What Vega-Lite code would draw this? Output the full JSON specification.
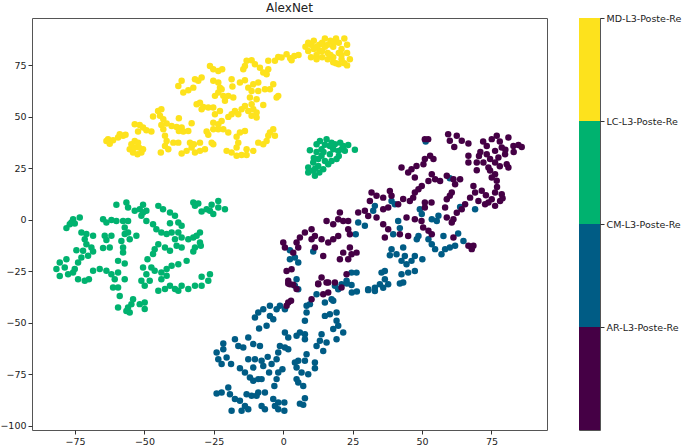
{"$schema":"https://vega.github.io/schema/vega-lite/v6.json","padding":{"left":-1,"top":1,"right":0,"bottom":0},"background":"white","spacing":30,"config":{"font":"DejaVu Sans","view":{"stroke":"#555555","strokeWidth":1},"axis":{"grid":false,"labelFont":"DejaVu Sans","labelFontSize":9.5,"labelColor":"#222222","tickColor":"#333333","tickSize":4,"domain":false,"title":null}},"hconcat":[{"width":515,"height":412,"title":{"text":"AlexNet","font":"DejaVu Sans","fontSize":12,"fontWeight":"normal","color":"#222222","offset":3},"data":{"values":[
{"x":-63.7,"y":38.3,"c":"MD"},{"x":-63.1,"y":39.2,"c":"MD"},{"x":-62.5,"y":37,"c":"MD"},{"x":-61.3,"y":38.7,"c":"MD"},{"x":-59.5,"y":40,"c":"MD"},{"x":-58.9,"y":41.6,"c":"MD"},{"x":-57.7,"y":40.8,"c":"MD"},{"x":-56.8,"y":41.3,"c":"MD"},{"x":-55.3,"y":34.3,"c":"MD"},{"x":-54.7,"y":36.7,"c":"MD"},{"x":-53.5,"y":38.3,"c":"MD"},{"x":-52.3,"y":37.5,"c":"MD"},{"x":-54.1,"y":32.7,"c":"MD"},{"x":-52.5,"y":31.9,"c":"MD"},{"x":-51.1,"y":32.7,"c":"MD"},{"x":-50.5,"y":34.3,"c":"MD"},{"x":-52,"y":35.1,"c":"MD"},{"x":-53.5,"y":35.1,"c":"MD"},{"x":-53.5,"y":46.4,"c":"MD"},{"x":-51.7,"y":46.1,"c":"MD"},{"x":-50.5,"y":44.8,"c":"MD"},{"x":-52.3,"y":42.9,"c":"MD"},{"x":-49.3,"y":43.5,"c":"MD"},{"x":-47.5,"y":42.9,"c":"MD"},{"x":-46.9,"y":50.2,"c":"MD"},{"x":-45.1,"y":52.9,"c":"MD"},{"x":-43.9,"y":53.7,"c":"MD"},{"x":-44.4,"y":50.5,"c":"MD"},{"x":-43.2,"y":48.9,"c":"MD"},{"x":-43.9,"y":46.1,"c":"MD"},{"x":-42,"y":46.8,"c":"MD"},{"x":-43.2,"y":44,"c":"MD"},{"x":-37.6,"y":49.3,"c":"MD"},{"x":-40.2,"y":45.6,"c":"MD"},{"x":-38.4,"y":45.1,"c":"MD"},{"x":-36.6,"y":44.8,"c":"MD"},{"x":-36,"y":42.9,"c":"MD"},{"x":-34.2,"y":43.2,"c":"MD"},{"x":-33,"y":46.9,"c":"MD"},{"x":-37.6,"y":43.2,"c":"MD"},{"x":-42.6,"y":40.8,"c":"MD"},{"x":-42,"y":38.3,"c":"MD"},{"x":-42.6,"y":35.9,"c":"MD"},{"x":-41.4,"y":34.3,"c":"MD"},{"x":-39.6,"y":37.5,"c":"MD"},{"x":-37.8,"y":37.5,"c":"MD"},{"x":-44.1,"y":32.7,"c":"MD"},{"x":-36.6,"y":32.2,"c":"MD"},{"x":-34.8,"y":33.5,"c":"MD"},{"x":-33.6,"y":37.5,"c":"MD"},{"x":-33,"y":35.1,"c":"MD"},{"x":-31.8,"y":32.7,"c":"MD"},{"x":-30,"y":33.5,"c":"MD"},{"x":-28.2,"y":34.3,"c":"MD"},{"x":-32.2,"y":36.7,"c":"MD"},{"x":-30,"y":37.5,"c":"MD"},{"x":-25.8,"y":37.5,"c":"MD"},{"x":-25.2,"y":36.7,"c":"MD"},{"x":-27.6,"y":42.9,"c":"MD"},{"x":-27,"y":41.3,"c":"MD"},{"x":-25.2,"y":44,"c":"MD"},{"x":-25.2,"y":47.2,"c":"MD"},{"x":-23.4,"y":46.4,"c":"MD"},{"x":-22.2,"y":48,"c":"MD"},{"x":-23.4,"y":44,"c":"MD"},{"x":-21.6,"y":44,"c":"MD"},{"x":-19.8,"y":42.4,"c":"MD"},{"x":-15.6,"y":42.4,"c":"MD"},{"x":-13.8,"y":43.2,"c":"MD"},{"x":-16.8,"y":40.3,"c":"MD"},{"x":-16.2,"y":37.5,"c":"MD"},{"x":-16.8,"y":35.1,"c":"MD"},{"x":-20.4,"y":33.5,"c":"MD"},{"x":-18.6,"y":32.7,"c":"MD"},{"x":-16.8,"y":31.1,"c":"MD"},{"x":-15,"y":31.5,"c":"MD"},{"x":-13.2,"y":31.5,"c":"MD"},{"x":-13.2,"y":34.3,"c":"MD"},{"x":-10.8,"y":33.5,"c":"MD"},{"x":-9,"y":37.5,"c":"MD"},{"x":-7.2,"y":36.7,"c":"MD"},{"x":-6,"y":38.3,"c":"MD"},{"x":-5.4,"y":40.8,"c":"MD"},{"x":-3.6,"y":44,"c":"MD"},{"x":-3,"y":40.8,"c":"MD"},{"x":-4.8,"y":42.4,"c":"MD"},
{"x":-36.6,"y":67.5,"c":"MD"},{"x":-37.8,"y":65,"c":"MD"},{"x":-36,"y":61.8,"c":"MD"},{"x":-34.2,"y":62.9,"c":"MD"},{"x":-32.4,"y":64.2,"c":"MD"},{"x":-31.8,"y":68.3,"c":"MD"},{"x":-29.4,"y":69.1,"c":"MD"},{"x":-30.6,"y":67.5,"c":"MD"},{"x":-26.4,"y":74.7,"c":"MD"},{"x":-25.2,"y":73.1,"c":"MD"},{"x":-23.4,"y":72.3,"c":"MD"},{"x":-22,"y":73.1,"c":"MD"},{"x":-25.2,"y":67.5,"c":"MD"},{"x":-23.4,"y":66.7,"c":"MD"},{"x":-22.8,"y":64.2,"c":"MD"},{"x":-24.6,"y":60.2,"c":"MD"},{"x":-23.4,"y":61.8,"c":"MD"},{"x":-21.6,"y":60.2,"c":"MD"},{"x":-19.8,"y":60.2,"c":"MD"},{"x":-18,"y":59.4,"c":"MD"},{"x":-21,"y":57.8,"c":"MD"},{"x":-22.2,"y":63.4,"c":"MD"},{"x":-31.2,"y":56.1,"c":"MD"},{"x":-30,"y":56.9,"c":"MD"},{"x":-28.8,"y":54.8,"c":"MD"},{"x":-29.4,"y":53.7,"c":"MD"},{"x":-27,"y":54.5,"c":"MD"},{"x":-25.2,"y":54.5,"c":"MD"},{"x":-24.6,"y":51.3,"c":"MD"},{"x":-22.8,"y":52.9,"c":"MD"},{"x":-18.6,"y":68.3,"c":"MD"},{"x":-18.3,"y":64.7,"c":"MD"},{"x":-15.6,"y":66.7,"c":"MD"},{"x":-13.8,"y":67.8,"c":"MD"},{"x":-14.4,"y":73.1,"c":"MD"},{"x":-13.2,"y":77.2,"c":"MD"},{"x":-11.4,"y":77.5,"c":"MD"},{"x":-10.2,"y":75.6,"c":"MD"},{"x":-13.8,"y":74.7,"c":"MD"},{"x":-8.4,"y":73.9,"c":"MD"},{"x":-7.2,"y":71.5,"c":"MD"},{"x":-6,"y":70.7,"c":"MD"},{"x":-5.4,"y":73.1,"c":"MD"},{"x":-5.4,"y":77.2,"c":"MD"},{"x":-3,"y":77.2,"c":"MD"},{"x":-1.8,"y":79.1,"c":"MD"},{"x":-0.6,"y":78.8,"c":"MD"},{"x":1.2,"y":80.4,"c":"MD"},{"x":-12.6,"y":64.2,"c":"MD"},{"x":-10.8,"y":65.8,"c":"MD"},{"x":-9,"y":66.7,"c":"MD"},{"x":-11.4,"y":62.6,"c":"MD"},{"x":-9,"y":62.6,"c":"MD"},{"x":-6.6,"y":63.4,"c":"MD"},{"x":-4.8,"y":63.4,"c":"MD"},{"x":-3.6,"y":65.8,"c":"MD"},{"x":-1.8,"y":60.2,"c":"MD"},{"x":-2.4,"y":59.4,"c":"MD"},{"x":-12,"y":59.4,"c":"MD"},{"x":-9.6,"y":58.6,"c":"MD"},{"x":-11.4,"y":56.1,"c":"MD"},{"x":-13.8,"y":55.3,"c":"MD"},{"x":-15,"y":53.7,"c":"MD"},{"x":-17.4,"y":52.9,"c":"MD"},{"x":-18.6,"y":51.3,"c":"MD"},{"x":-19.8,"y":50,"c":"MD"},{"x":-16.2,"y":51.3,"c":"MD"},{"x":-12.6,"y":52.9,"c":"MD"},{"x":-10.8,"y":53.7,"c":"MD"},{"x":-9.6,"y":52.1,"c":"MD"},{"x":-9.6,"y":49.7,"c":"MD"},{"x":-7.2,"y":55.8,"c":"MD"},{"x":-11.4,"y":50.5,"c":"MD"},
{"x":2.5,"y":78.5,"c":"MD"},{"x":4,"y":79.5,"c":"MD"},{"x":5.5,"y":80,"c":"MD"},{"x":3,"y":77.5,"c":"MD"},{"x":8,"y":84,"c":"MD"},{"x":9,"y":82,"c":"MD"},{"x":10,"y":85,"c":"MD"},{"x":11,"y":83,"c":"MD"},{"x":12,"y":80,"c":"MD"},{"x":13,"y":85,"c":"MD"},{"x":14,"y":86,"c":"MD"},{"x":15,"y":84,"c":"MD"},{"x":16,"y":81,"c":"MD"},{"x":17,"y":87,"c":"MD"},{"x":18,"y":84,"c":"MD"},{"x":19,"y":88,"c":"MD"},{"x":20,"y":86,"c":"MD"},{"x":21,"y":83,"c":"MD"},{"x":22,"y":88,"c":"MD"},{"x":23,"y":85,"c":"MD"},{"x":10,"y":79,"c":"MD"},{"x":12,"y":78,"c":"MD"},{"x":14,"y":79,"c":"MD"},{"x":16,"y":78,"c":"MD"},{"x":18,"y":79,"c":"MD"},{"x":19,"y":76,"c":"MD"},{"x":21,"y":78,"c":"MD"},{"x":22,"y":76,"c":"MD"},{"x":23,"y":75,"c":"MD"},{"x":24,"y":78,"c":"MD"},{"x":20,"y":81,"c":"MD"},{"x":15,"y":88,"c":"MD"},{"x":23,"y":81,"c":"MD"},{"x":17,"y":80,"c":"MD"},{"x":13,"y":82,"c":"MD"},{"x":9,"y":86,"c":"MD"},{"x":11,"y":87,"c":"MD"},{"x":18,"y":86,"c":"MD"},{"x":12,"y":84,"c":"MD"},{"x":16,"y":85,"c":"MD"},{"x":21,"y":80,"c":"MD"},{"x":14,"y":82,"c":"MD"},{"x":18,"y":76.5,"c":"MD"},{"x":20,"y":75.5,"c":"MD"},
{"x":-78.1,"y":-4,"c":"LC"},{"x":-76.9,"y":-2.1,"c":"LC"},{"x":-75.7,"y":0.3,"c":"LC"},{"x":-76.3,"y":-1.3,"c":"LC"},{"x":-73.3,"y":1.2,"c":"LC"},{"x":-75.1,"y":-1.8,"c":"LC"},{"x":-64.9,"y":0.3,"c":"LC"},{"x":-63.7,"y":-1.3,"c":"LC"},{"x":-61.9,"y":-0.1,"c":"LC"},{"x":-60.1,"y":-0.5,"c":"LC"},{"x":-57.7,"y":-0.5,"c":"LC"},{"x":-55.9,"y":-0.5,"c":"LC"},{"x":-60.1,"y":7.3,"c":"LC"},{"x":-56.5,"y":8.4,"c":"LC"},{"x":-55.9,"y":6,"c":"LC"},{"x":-53.5,"y":4.4,"c":"LC"},{"x":-51.7,"y":5.2,"c":"LC"},{"x":-50.5,"y":7.3,"c":"LC"},{"x":-49.3,"y":4.4,"c":"LC"},{"x":-51.1,"y":2,"c":"LC"},{"x":-49.3,"y":-0.5,"c":"LC"},{"x":-50.5,"y":3.6,"c":"LC"},{"x":-45,"y":6.8,"c":"LC"},{"x":-43.3,"y":5.2,"c":"LC"},{"x":-40.8,"y":3.6,"c":"LC"},{"x":-39,"y":2,"c":"LC"},{"x":-37.8,"y":-1.3,"c":"LC"},{"x":-36.6,"y":-2.9,"c":"LC"},{"x":-40.8,"y":-1.6,"c":"LC"},{"x":-46.9,"y":-2.1,"c":"LC"},{"x":-45.7,"y":-4.5,"c":"LC"},{"x":-32.4,"y":8.4,"c":"LC"},{"x":-31.8,"y":6.8,"c":"LC"},{"x":-30.6,"y":8,"c":"LC"},{"x":-23.4,"y":9.2,"c":"LC"},{"x":-25.8,"y":7.3,"c":"LC"},{"x":-27.6,"y":5.2,"c":"LC"},{"x":-29.4,"y":4.1,"c":"LC"},{"x":-25.2,"y":2.8,"c":"LC"},{"x":-23.4,"y":6,"c":"LC"},{"x":-21,"y":5.2,"c":"LC"},{"x":-26.4,"y":4.4,"c":"LC"},{"x":-72.7,"y":-6.1,"c":"LC"},{"x":-70.9,"y":-6.9,"c":"LC"},{"x":-68.5,"y":-7.7,"c":"LC"},{"x":-71.5,"y":-9.4,"c":"LC"},{"x":-64.3,"y":-7.7,"c":"LC"},{"x":-61.9,"y":-7.7,"c":"LC"},{"x":-63.7,"y":-9.8,"c":"LC"},{"x":-64.9,"y":-13.7,"c":"LC"},{"x":-62.5,"y":-13.4,"c":"LC"},{"x":-57.1,"y":-3.7,"c":"LC"},{"x":-57.1,"y":-6.9,"c":"LC"},{"x":-58.3,"y":-10.2,"c":"LC"},{"x":-55.3,"y":-9.4,"c":"LC"},{"x":-52.9,"y":-7.7,"c":"LC"},{"x":-57.7,"y":-13.4,"c":"LC"},{"x":-57.7,"y":-15.8,"c":"LC"},{"x":-55.9,"y":-6.1,"c":"LC"},{"x":-43.9,"y":-6.1,"c":"LC"},{"x":-42,"y":-6.9,"c":"LC"},{"x":-40.2,"y":-6.1,"c":"LC"},{"x":-37.8,"y":-6.1,"c":"LC"},{"x":-36.6,"y":-8.5,"c":"LC"},{"x":-39,"y":-9.4,"c":"LC"},{"x":-38.4,"y":-12.6,"c":"LC"},{"x":-36.6,"y":-13.4,"c":"LC"},{"x":-40.8,"y":-15,"c":"LC"},{"x":-42.6,"y":-13.4,"c":"LC"},{"x":-45,"y":-11.8,"c":"LC"},{"x":-46.3,"y":-14.2,"c":"LC"},{"x":-46.9,"y":-16.6,"c":"LC"},{"x":-48.9,"y":-19.1,"c":"LC"},{"x":-34.2,"y":-9.4,"c":"LC"},{"x":-32.4,"y":-8.5,"c":"LC"},{"x":-30,"y":-6.1,"c":"LC"},{"x":-31.2,"y":-7.7,"c":"LC"},{"x":-30,"y":-11,"c":"LC"},{"x":-31.8,"y":-13.4,"c":"LC"},{"x":-32.4,"y":-15.4,"c":"LC"},{"x":-29.7,"y":-12.6,"c":"LC"},{"x":-70.9,"y":-11.8,"c":"LC"},{"x":-69.1,"y":-13.4,"c":"LC"},{"x":-68.5,"y":-15.4,"c":"LC"},{"x":-74.5,"y":-14.7,"c":"LC"},{"x":-72.1,"y":-15,"c":"LC"},{"x":-70.3,"y":-17.4,"c":"LC"},{"x":-72.7,"y":-18.3,"c":"LC"},{"x":-73.9,"y":-20.7,"c":"LC"},{"x":-75.1,"y":-23.9,"c":"LC"},{"x":-78.1,"y":-19.1,"c":"LC"},{"x":-80.5,"y":-20.7,"c":"LC"},{"x":-81.7,"y":-23.9,"c":"LC"},{"x":-80.5,"y":-27.2,"c":"LC"},{"x":-78.7,"y":-23.1,"c":"LC"},{"x":-77.5,"y":-26.4,"c":"LC"},{"x":-75.7,"y":-25.5,"c":"LC"},{"x":-73.9,"y":-28.8,"c":"LC"},{"x":-71.5,"y":-29.6,"c":"LC"},{"x":-70,"y":-28.8,"c":"LC"},{"x":-68.5,"y":-24.7,"c":"LC"},{"x":-66.1,"y":-23.9,"c":"LC"},{"x":-59.5,"y":-19.9,"c":"LC"},{"x":-57.1,"y":-21.2,"c":"LC"},{"x":-63.7,"y":-24.7,"c":"LC"},{"x":-61.9,"y":-26.4,"c":"LC"},{"x":-59.5,"y":-25.5,"c":"LC"},{"x":-60.7,"y":-28.8,"c":"LC"},{"x":-61.3,"y":-32.8,"c":"LC"},{"x":-59.5,"y":-32.8,"c":"LC"},{"x":-58.9,"y":-36.9,"c":"LC"},{"x":-57.1,"y":-28.8,"c":"LC"},{"x":-50.5,"y":-23.1,"c":"LC"},{"x":-47.5,"y":-23.1,"c":"LC"},{"x":-49.3,"y":-26.4,"c":"LC"},{"x":-51.1,"y":-29.6,"c":"LC"},{"x":-49.9,"y":-32,"c":"LC"},{"x":-48.1,"y":-29.6,"c":"LC"},{"x":-46.3,"y":-24.7,"c":"LC"},{"x":-43.9,"y":-25.5,"c":"LC"},{"x":-42,"y":-23.9,"c":"LC"},{"x":-40.2,"y":-22.3,"c":"LC"},{"x":-37.8,"y":-21.5,"c":"LC"},{"x":-34.8,"y":-19.9,"c":"LC"},{"x":-43.9,"y":-28.8,"c":"LC"},{"x":-42,"y":-27.1,"c":"LC"},{"x":-45,"y":-34.4,"c":"LC"},{"x":-42.6,"y":-33.6,"c":"LC"},{"x":-40.8,"y":-32,"c":"LC"},{"x":-39,"y":-33.6,"c":"LC"},{"x":-36.6,"y":-32,"c":"LC"},{"x":-34.2,"y":-33.6,"c":"LC"},{"x":-31.8,"y":-32,"c":"LC"},{"x":-29.4,"y":-32,"c":"LC"},{"x":-27,"y":-29.6,"c":"LC"},{"x":-26.4,"y":-26.4,"c":"LC"},{"x":-29.4,"y":-27.6,"c":"LC"},{"x":-37.8,"y":-34.4,"c":"LC"},{"x":-59.5,"y":-42.5,"c":"LC"},{"x":-56.5,"y":-44.2,"c":"LC"},{"x":-55.3,"y":-45,"c":"LC"},{"x":-54.7,"y":-40.9,"c":"LC"},{"x":-54.1,"y":-38.5,"c":"LC"},{"x":-51.7,"y":-40.9,"c":"LC"},{"x":-49.9,"y":-40.1,"c":"LC"},{"x":-49.9,"y":-43.3,"c":"LC"},{"x":-55.9,"y":-42.5,"c":"LC"},
{"x":9.6,"y":33.8,"c":"LC"},{"x":12,"y":36.7,"c":"LC"},{"x":15.6,"y":39.2,"c":"LC"},{"x":18.6,"y":36.7,"c":"LC"},{"x":21.6,"y":35.9,"c":"LC"},{"x":23.4,"y":36.4,"c":"LC"},{"x":25.8,"y":34,"c":"LC"},{"x":19.8,"y":33.5,"c":"LC"},{"x":22.2,"y":33.5,"c":"LC"},{"x":13.8,"y":34.3,"c":"LC"},{"x":16.8,"y":35.9,"c":"LC"},{"x":13.8,"y":31.1,"c":"LC"},{"x":16.8,"y":31.9,"c":"LC"},{"x":19.2,"y":29.5,"c":"LC"},{"x":10.8,"y":27.8,"c":"LC"},{"x":12.6,"y":26.2,"c":"LC"},{"x":9,"y":25.4,"c":"LC"},{"x":9,"y":23,"c":"LC"},{"x":11.4,"y":21.4,"c":"LC"},{"x":14.4,"y":24.6,"c":"LC"},{"x":16.2,"y":27,"c":"LC"},{"x":12.6,"y":29.5,"c":"LC"},{"x":15,"y":28.6,"c":"LC"},{"x":17.4,"y":28.6,"c":"LC"},{"x":10.8,"y":23.8,"c":"LC"},{"x":21,"y":34.3,"c":"LC"},{"x":18,"y":34.3,"c":"LC"},{"x":13.2,"y":38.3,"c":"LC"},{"x":17.4,"y":37.5,"c":"LC"},{"x":11,"y":30,"c":"LC"},{"x":14.5,"y":33,"c":"LC"},{"x":20,"y":31,"c":"LC"},{"x":15,"y":36.5,"c":"LC"},{"x":11.5,"y":25,"c":"LC"},{"x":13,"y":23,"c":"LC"},{"x":20.5,"y":37.5,"c":"LC"},{"x":12,"y":33,"c":"LC"},
{"x":2.4,"y":-14.7,"c":"CM"},{"x":4.2,"y":-18.3,"c":"CM"},{"x":2.4,"y":-19.1,"c":"CM"},{"x":5.4,"y":-20.7,"c":"CM"},{"x":4.8,"y":-28.8,"c":"CM"},{"x":4.2,"y":-32,"c":"CM"},{"x":5.4,"y":-33.7,"c":"CM"},{"x":10.8,"y":-15.4,"c":"CM"},{"x":26.1,"y":-7,"c":"CM"},{"x":27,"y":-1.3,"c":"CM"},{"x":29.4,"y":-2.9,"c":"CM"},{"x":32.4,"y":4.4,"c":"CM"},{"x":33,"y":6.8,"c":"CM"},{"x":39,"y":9.2,"c":"CM"},{"x":40.2,"y":7.6,"c":"CM"},{"x":39.6,"y":-7,"c":"CM"},{"x":42,"y":-4,"c":"CM"},{"x":41.4,"y":-0.5,"c":"CM"},{"x":49.2,"y":5.2,"c":"CM"},{"x":49.9,"y":2.8,"c":"CM"},{"x":53.5,"y":0.3,"c":"CM"},{"x":55.3,"y":-0.5,"c":"CM"},{"x":55.9,"y":2,"c":"CM"},{"x":48.7,"y":-7.8,"c":"CM"},{"x":48.1,"y":-9.4,"c":"CM"},{"x":52.3,"y":-9.4,"c":"CM"},{"x":53.5,"y":-11.8,"c":"CM"},{"x":57.7,"y":-7.8,"c":"CM"},{"x":63,"y":-6.6,"c":"CM"},{"x":64.9,"y":-10.2,"c":"CM"},{"x":61.9,"y":-12.6,"c":"CM"},{"x":57,"y":-16.7,"c":"CM"},{"x":58.3,"y":-14.2,"c":"CM"},{"x":60,"y":-13.4,"c":"CM"},{"x":54.7,"y":-14.2,"c":"CM"},{"x":69.1,"y":5.2,"c":"CM"},{"x":63.7,"y":6.3,"c":"CM"},{"x":60,"y":20.2,"c":"CM"},{"x":51.3,"y":38,"c":"CM"},{"x":39,"y":-14.2,"c":"CM"},{"x":43.2,"y":-13.4,"c":"CM"},{"x":40.8,"y":-16.7,"c":"CM"},{"x":38.4,"y":-17.2,"c":"CM"},{"x":43.8,"y":-17.5,"c":"CM"},{"x":42.6,"y":-19.9,"c":"CM"},{"x":44.4,"y":-21.5,"c":"CM"},{"x":47.4,"y":-17.5,"c":"CM"},{"x":46.2,"y":-19.9,"c":"CM"},{"x":50.1,"y":-19.1,"c":"CM"},{"x":45,"y":-25.6,"c":"CM"},{"x":42.6,"y":-26.4,"c":"CM"},{"x":47.4,"y":-24.8,"c":"CM"},{"x":43.2,"y":-30.4,"c":"CM"},{"x":42,"y":-30.9,"c":"CM"},{"x":24.6,"y":-25.6,"c":"CM"},{"x":26.4,"y":-25.6,"c":"CM"},{"x":22.8,"y":-29.6,"c":"CM"},{"x":21,"y":-31.2,"c":"CM"},{"x":24.6,"y":-31.6,"c":"CM"},{"x":18.6,"y":-32,"c":"CM"},{"x":19.8,"y":-33.7,"c":"CM"},{"x":35.4,"y":-25.6,"c":"CM"},{"x":36.6,"y":-24.8,"c":"CM"},{"x":36.6,"y":-28.8,"c":"CM"},{"x":37.8,"y":-31.2,"c":"CM"},{"x":34.8,"y":-31.2,"c":"CM"},{"x":36,"y":-32.9,"c":"CM"},{"x":33,"y":-32.9,"c":"CM"},{"x":30.6,"y":-33.7,"c":"CM"},{"x":22.9,"y":-30.9,"c":"CM"},{"x":24.7,"y":-35.3,"c":"CM"},{"x":26.5,"y":-34.8,"c":"CM"},{"x":30.6,"y":-34.1,"c":"CM"},{"x":33,"y":-34.5,"c":"CM"},{"x":12,"y":-36.1,"c":"CM"},{"x":17.4,"y":-38.5,"c":"CM"},{"x":8.4,"y":-41.7,"c":"CM"},{"x":9.6,"y":-40.9,"c":"CM"},{"x":8.4,"y":-45,"c":"CM"},{"x":7.8,"y":-49,"c":"CM"},{"x":15,"y":-40.1,"c":"CM"},{"x":18,"y":-39.3,"c":"CM"},{"x":15,"y":-46.6,"c":"CM"},{"x":16.8,"y":-45.8,"c":"CM"},{"x":19.2,"y":-45,"c":"CM"},{"x":19.2,"y":-49,"c":"CM"},{"x":18,"y":-53,"c":"CM"},{"x":19.8,"y":-51.4,"c":"CM"},{"x":21.6,"y":-54.7,"c":"CM"},{"x":19.2,"y":-57.9,"c":"CM"},{"x":-10.2,"y":-47.4,"c":"CM"},{"x":-9,"y":-45,"c":"CM"},{"x":-7.2,"y":-43.4,"c":"CM"},{"x":-4.8,"y":-41.7,"c":"CM"},{"x":-2.4,"y":-43.4,"c":"CM"},{"x":-1.2,"y":-41.7,"c":"CM"},{"x":0.6,"y":-43.4,"c":"CM"},{"x":-4.8,"y":-46.6,"c":"CM"},{"x":-6,"y":-51.4,"c":"CM"},{"x":-8.7,"y":-52.7,"c":"CM"},{"x":-3.6,"y":-48.2,"c":"CM"},{"x":0.6,"y":-54.7,"c":"CM"},{"x":1.8,"y":-57.1,"c":"CM"},{"x":4.8,"y":-56.3,"c":"CM"},{"x":6,"y":-54.7,"c":"CM"},{"x":7.8,"y":-57.9,"c":"CM"},{"x":7.8,"y":-55.5,"c":"CM"},{"x":13.8,"y":-55.5,"c":"CM"},{"x":13.2,"y":-58.7,"c":"CM"},{"x":12,"y":-61.2,"c":"CM"},{"x":14.4,"y":-63.6,"c":"CM"},{"x":15.6,"y":-59.5,"c":"CM"},{"x":-21.6,"y":-60,"c":"CM"},{"x":-21.6,"y":-62.8,"c":"CM"},{"x":-24,"y":-64.4,"c":"CM"},{"x":-23.4,"y":-67.6,"c":"CM"},{"x":-22.2,"y":-70,"c":"CM"},{"x":-20.4,"y":-66.8,"c":"CM"},{"x":-18.8,"y":-70,"c":"CM"},{"x":-17.4,"y":-57.9,"c":"CM"},{"x":-16.2,"y":-61.2,"c":"CM"},{"x":-14.4,"y":-62,"c":"CM"},{"x":-12.6,"y":-57.1,"c":"CM"},{"x":-10.8,"y":-60.3,"c":"CM"},{"x":-8.4,"y":-61.2,"c":"CM"},{"x":-12.6,"y":-67.6,"c":"CM"},{"x":-10.2,"y":-67.6,"c":"CM"},{"x":-7.8,"y":-68.4,"c":"CM"},{"x":-5.6,"y":-66.5,"c":"CM"},{"x":-7.2,"y":-70.9,"c":"CM"},{"x":-10.8,"y":-71.7,"c":"CM"},{"x":-15.6,"y":-72,"c":"CM"},{"x":-13.8,"y":-74.1,"c":"CM"},{"x":-12,"y":-76.5,"c":"CM"},{"x":-9,"y":-77.3,"c":"CM"},{"x":-7.8,"y":-77.3,"c":"CM"},{"x":-10.8,"y":-78.1,"c":"CM"},{"x":-4.2,"y":-70,"c":"CM"},{"x":-5.1,"y":-74.1,"c":"CM"},{"x":-1.2,"y":-61.2,"c":"CM"},{"x":0.6,"y":-62,"c":"CM"},{"x":-1.8,"y":-64.4,"c":"CM"},{"x":-2.4,"y":-67.6,"c":"CM"},{"x":1.8,"y":-62.8,"c":"CM"},{"x":-0.3,"y":-72.5,"c":"CM"},{"x":-1.8,"y":-74.1,"c":"CM"},{"x":-2.4,"y":-77.3,"c":"CM"},{"x":-3.2,"y":-80.6,"c":"CM"},{"x":5.4,"y":-68.4,"c":"CM"},{"x":4.2,"y":-69.2,"c":"CM"},{"x":8.4,"y":-65.2,"c":"CM"},{"x":7.8,"y":-68.4,"c":"CM"},{"x":11.4,"y":-69.2,"c":"CM"},{"x":11.4,"y":-72,"c":"CM"},{"x":4.8,"y":-71.7,"c":"CM"},{"x":9,"y":-74.9,"c":"CM"},{"x":4.8,"y":-77.3,"c":"CM"},{"x":5.4,"y":-78.9,"c":"CM"},{"x":7.2,"y":-80.6,"c":"CM"},{"x":6.6,"y":-74.1,"c":"CM"},{"x":-24,"y":-84.3,"c":"CM"},{"x":-22.2,"y":-83.8,"c":"CM"},{"x":-19.8,"y":-81.4,"c":"CM"},{"x":-19.2,"y":-84.6,"c":"CM"},{"x":-17.4,"y":-87,"c":"CM"},{"x":-15.6,"y":-87.8,"c":"CM"},{"x":-18.6,"y":-92.7,"c":"CM"},{"x":-15,"y":-92.7,"c":"CM"},{"x":-12.6,"y":-91.9,"c":"CM"},{"x":-13.8,"y":-90.3,"c":"CM"},{"x":-13.2,"y":-84.6,"c":"CM"},{"x":-11.4,"y":-85.4,"c":"CM"},{"x":-9,"y":-83.8,"c":"CM"},{"x":-6.6,"y":-83.8,"c":"CM"},{"x":-9.6,"y":-85.4,"c":"CM"},{"x":-7.8,"y":-90.3,"c":"CM"},{"x":-6.6,"y":-91.9,"c":"CM"},{"x":-3.6,"y":-87,"c":"CM"},{"x":-3,"y":-90.3,"c":"CM"},{"x":-1.8,"y":-88.7,"c":"CM"},{"x":0.4,"y":-88.7,"c":"CM"},{"x":0.4,"y":-92.7,"c":"CM"},{"x":-1.8,"y":-91.9,"c":"CM"},{"x":7.8,"y":-86.6,"c":"CM"},{"x":6,"y":-89.2,"c":"CM"},{"x":7.2,"y":-89.8,"c":"CM"},
{"x":0,"y":-11,"c":"AR"},{"x":0.6,"y":-13.4,"c":"AR"},{"x":4.8,"y":-11,"c":"AR"},{"x":6,"y":-8.6,"c":"AR"},{"x":5.4,"y":-13.4,"c":"AR"},{"x":3.6,"y":-15.9,"c":"AR"},{"x":7.8,"y":-6.1,"c":"AR"},{"x":10.2,"y":-4.5,"c":"AR"},{"x":11.4,"y":-7.8,"c":"AR"},{"x":10.2,"y":-9.4,"c":"AR"},{"x":11.4,"y":-13.4,"c":"AR"},{"x":13.8,"y":-9.4,"c":"AR"},{"x":16.2,"y":-11,"c":"AR"},{"x":18,"y":-9.4,"c":"AR"},{"x":19.8,"y":-7.8,"c":"AR"},{"x":15.6,"y":-0.5,"c":"AR"},{"x":18,"y":-2.1,"c":"AR"},{"x":20.4,"y":3.6,"c":"AR"},{"x":19.8,"y":0.3,"c":"AR"},{"x":21.6,"y":-0.5,"c":"AR"},{"x":23.4,"y":-0.5,"c":"AR"},{"x":23.4,"y":-4.5,"c":"AR"},{"x":24,"y":-7,"c":"AR"},{"x":27,"y":3.6,"c":"AR"},{"x":29.4,"y":4.4,"c":"AR"},{"x":31.2,"y":9.2,"c":"AR"},{"x":31.8,"y":13.3,"c":"AR"},{"x":33.6,"y":11.7,"c":"AR"},{"x":30.6,"y":1.9,"c":"AR"},{"x":33.6,"y":1.1,"c":"AR"},{"x":36,"y":5.2,"c":"AR"},{"x":37.8,"y":6,"c":"AR"},{"x":38.4,"y":14,"c":"AR"},{"x":36,"y":10.8,"c":"AR"},{"x":39,"y":11.7,"c":"AR"},{"x":43.2,"y":10.1,"c":"AR"},{"x":41.4,"y":7.6,"c":"AR"},{"x":36,"y":-2.1,"c":"AR"},{"x":37.8,"y":-4.5,"c":"AR"},{"x":36.6,"y":-8.6,"c":"AR"},{"x":42,"y":-7,"c":"AR"},{"x":45,"y":-7.8,"c":"AR"},{"x":44.4,"y":1.1,"c":"AR"},{"x":47.4,"y":0.3,"c":"AR"},{"x":49.8,"y":-0.5,"c":"AR"},{"x":50.4,"y":-3.7,"c":"AR"},{"x":46.8,"y":10.8,"c":"AR"},{"x":47.4,"y":13.3,"c":"AR"},{"x":51,"y":8.4,"c":"AR"},{"x":53.4,"y":8.4,"c":"AR"},{"x":51,"y":6,"c":"AR"},{"x":45.6,"y":9.2,"c":"AR"},{"x":14.4,"y":-17.5,"c":"AR"},{"x":20.4,"y":-19.1,"c":"AR"},{"x":21.6,"y":-15.9,"c":"AR"},{"x":24,"y":-13.4,"c":"AR"},{"x":24.6,"y":-16.7,"c":"AR"},{"x":26.4,"y":-15.9,"c":"AR"},{"x":23.4,"y":-19.1,"c":"AR"},{"x":1.2,"y":-24.8,"c":"AR"},{"x":3,"y":-24,"c":"AR"},{"x":1.8,"y":-29.6,"c":"AR"},{"x":2.4,"y":-31.2,"c":"AR"},{"x":12.6,"y":-31.2,"c":"AR"},{"x":13.8,"y":-28,"c":"AR"},{"x":16.2,"y":-30.4,"c":"AR"},{"x":22.8,"y":-26.4,"c":"AR"},{"x":51,"y":39.2,"c":"AR"},{"x":52.2,"y":39.2,"c":"AR"},{"x":59.4,"y":41.6,"c":"AR"},{"x":60,"y":38.4,"c":"AR"},{"x":62.5,"y":40.8,"c":"AR"},{"x":64.3,"y":38.4,"c":"AR"},{"x":66.7,"y":37.1,"c":"AR"},{"x":61.6,"y":35.4,"c":"AR"},{"x":51,"y":29.5,"c":"AR"},{"x":52.9,"y":31.1,"c":"AR"},{"x":54.1,"y":29.5,"c":"AR"},{"x":50.5,"y":27,"c":"AR"},{"x":48,"y":26.2,"c":"AR"},{"x":46.2,"y":24.6,"c":"AR"},{"x":42.6,"y":25.4,"c":"AR"},{"x":45,"y":23,"c":"AR"},{"x":47.4,"y":20.6,"c":"AR"},{"x":53.5,"y":22.2,"c":"AR"},{"x":52.3,"y":18.9,"c":"AR"},{"x":54.7,"y":19.7,"c":"AR"},{"x":56.5,"y":18.9,"c":"AR"},{"x":49.9,"y":16.5,"c":"AR"},{"x":48.7,"y":14.9,"c":"AR"},{"x":58.9,"y":21.4,"c":"AR"},{"x":61.3,"y":19.7,"c":"AR"},{"x":63.7,"y":19.7,"c":"AR"},{"x":61.9,"y":17.3,"c":"AR"},{"x":60.7,"y":13.3,"c":"AR"},{"x":58.9,"y":10,"c":"AR"},{"x":58.3,"y":6,"c":"AR"},{"x":60,"y":11.7,"c":"AR"},{"x":66.7,"y":31.1,"c":"AR"},{"x":66.7,"y":27.8,"c":"AR"},{"x":69.7,"y":27.8,"c":"AR"},{"x":69.7,"y":24.1,"c":"AR"},{"x":73.3,"y":35.9,"c":"AR"},{"x":75.1,"y":39.2,"c":"AR"},{"x":76.9,"y":40.8,"c":"AR"},{"x":73.3,"y":31.9,"c":"AR"},{"x":72.1,"y":27.8,"c":"AR"},{"x":73.9,"y":25.4,"c":"AR"},{"x":76.3,"y":22.2,"c":"AR"},{"x":76.9,"y":19,"c":"AR"},{"x":75.1,"y":20.6,"c":"AR"},{"x":77.5,"y":30.3,"c":"AR"},{"x":76.3,"y":33.5,"c":"AR"},{"x":78.7,"y":35.1,"c":"AR"},{"x":81.1,"y":40,"c":"AR"},{"x":82.9,"y":35.9,"c":"AR"},{"x":85.9,"y":35.4,"c":"AR"},{"x":84.7,"y":36.4,"c":"AR"},{"x":79.9,"y":31.9,"c":"AR"},{"x":80.5,"y":27,"c":"AR"},{"x":76.3,"y":27.8,"c":"AR"},{"x":81.1,"y":25.4,"c":"AR"},{"x":74.5,"y":29.5,"c":"AR"},{"x":68.5,"y":16.5,"c":"AR"},{"x":67.3,"y":10.8,"c":"AR"},{"x":69.1,"y":13.3,"c":"AR"},{"x":70.3,"y":9.2,"c":"AR"},{"x":65.5,"y":7.6,"c":"AR"},{"x":64.3,"y":5.2,"c":"AR"},{"x":71.5,"y":14.1,"c":"AR"},{"x":76.3,"y":13.3,"c":"AR"},{"x":78.7,"y":12.5,"c":"AR"},{"x":78.1,"y":9.2,"c":"AR"},{"x":76.3,"y":6.8,"c":"AR"},{"x":73.9,"y":8.4,"c":"AR"},{"x":72.7,"y":7.6,"c":"AR"},{"x":75.1,"y":10,"c":"AR"},{"x":58.9,"y":1.1,"c":"AR"},{"x":61.3,"y":0.3,"c":"AR"},{"x":62.5,"y":3.5,"c":"AR"},{"x":60.7,"y":-1.3,"c":"AR"},{"x":61.3,"y":-8.6,"c":"AR"},{"x":66.7,"y":-12.6,"c":"AR"},{"x":68.5,"y":-12.6,"c":"AR"},{"x":67.9,"y":-14.2,"c":"AR"},{"x":53.5,"y":-7,"c":"AR"},{"x":52.3,"y":-5.3,"c":"AR"},{"x":1.8,"y":-30.9,"c":"AR"},{"x":3.6,"y":-31.5,"c":"AR"},{"x":4.8,"y":-33.6,"c":"AR"},{"x":12.6,"y":-30.9,"c":"AR"},{"x":15.6,"y":-30.4,"c":"AR"},{"x":18.6,"y":-30.4,"c":"AR"},{"x":21,"y":-32.8,"c":"AR"},{"x":14.4,"y":-36.1,"c":"AR"},{"x":16.2,"y":-35.3,"c":"AR"},{"x":10.2,"y":-38.5,"c":"AR"},{"x":2.8,"y":-39.3,"c":"AR"},{"x":1.2,"y":-41.7,"c":"AR"},{"x":1.8,"y":-40.1,"c":"AR"},{"x":71,"y":33,"c":"AR"},{"x":78,"y":38,"c":"AR"},{"x":80,"y":34,"c":"AR"},{"x":74.5,"y":24,"c":"AR"},{"x":78,"y":26,"c":"AR"},{"x":83,"y":33,"c":"AR"},{"x":70.5,"y":31,"c":"AR"},{"x":72,"y":38,"c":"AR"},{"x":77,"y":16,"c":"AR"},{"x":73,"y":12,"c":"AR"},{"x":79,"y":10.5,"c":"AR"}
]},"mark":{"type":"circle","size":42,"opacity":1},"encoding":{"x":{"field":"x","type":"quantitative","scale":{"domain":[-90.5,95],"nice":false,"zero":false},"axis":{"values":[-75,-50,-25,0,25,50,75]}},"y":{"field":"y","type":"quantitative","scale":{"domain":[-102,98],"nice":false,"zero":false},"axis":{"values":[-100,-75,-50,-25,0,25,50,75]}},"color":{"field":"c","type":"nominal","scale":{"domain":["AR","CM","LC","MD"],"range":["#450045","#005c85","#00b26f","#fde21d"]},"legend":null}}},{"width":21,"height":412,"data":{"values":[{"s":-1,"e":0,"c":"AR"},{"s":0,"e":1,"c":"CM"},{"s":1,"e":2,"c":"LC"},{"s":2,"e":3,"c":"MD"}]},"mark":{"type":"rect"},"encoding":{"y":{"field":"s","type":"quantitative","scale":{"domain":[-1,3],"nice":false,"zero":false},"axis":{"orient":"right","values":[0,1,2,3],"labelExpr":"['AR-L3-Poste-Re','CM-L3-Poste-Re','LC-L3-Poste-Re','MD-L3-Poste-Re'][datum.value]"}},"y2":{"field":"e"},"color":{"field":"c","type":"nominal","scale":{"domain":["AR","CM","LC","MD"],"range":["#450045","#005c85","#00b26f","#fde21d"]},"legend":null}}}]}
